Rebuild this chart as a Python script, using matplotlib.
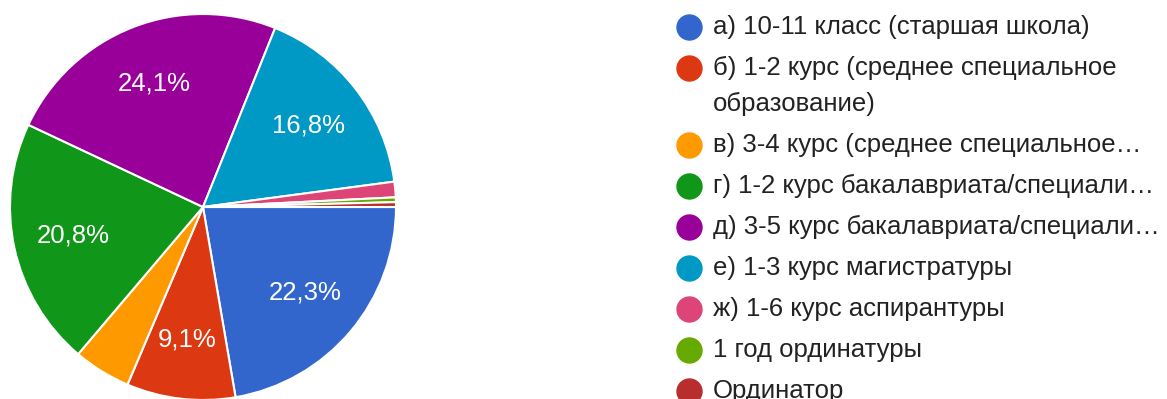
import matplotlib.pyplot as plt
from matplotlib.lines import Line2D

# Данные диаграммы (проценты)
labels = [
    "а) 10-11 класс (старшая школа)",
    "б) 1-2 курс (среднее специальное\nобразование)",
    "в) 3-4 курс (среднее специальное…",
    "г) 1-2 курс бакалавриата/специали…",
    "д) 3-5 курс бакалавриата/специали…",
    "е) 1-3 курс магистратуры",
    "ж) 1-6 курс аспирантуры",
    "1 год ординатуры",
    "Ординатор",
]
values = [22.3, 9.1, 4.8, 20.8, 24.1, 16.8, 1.3, 0.4, 0.4]
colors = ["#3366cc", "#dc3912", "#ff9900", "#109618", "#990099",
          "#0099c6", "#dd4477", "#66aa00", "#b82e2e"]

plt.rcParams['font.family'] = ['Liberation Sans', 'DejaVu Sans']

W, H = 1167, 399
fig = plt.figure(figsize=(W / 100, H / 100), dpi=100)

# pie: center (203, 207) px, radius 193 px
cx, cy, r = 203, 207, 193
ax = fig.add_axes([(cx - r) / W, (H - cy - r) / H, 2 * r / W, 2 * r / H])


def fmt(p):
    if p < 5:
        return ''
    return ('%.1f%%' % p).replace('.', ',')


wedges, texts, autotexts = ax.pie(
    values, colors=colors, startangle=0, counterclock=False,
    autopct=fmt, pctdistance=0.69,
    wedgeprops=dict(edgecolor='white', linewidth=1.5),
    textprops=dict(color='white', fontsize=18.5))
ax.set_xlim(-1, 1)
ax.set_ylim(-1, 1)
ax.set_aspect('equal')
ax.axis('off')

# legend drawn by hand (pixel coords)
lax = fig.add_axes([0, 0, 1, 1])
lax.set_xlim(0, W)
lax.set_ylim(H, 0)
lax.axis('off')

y = 27
for lab, col in zip(labels, colors):
    lax.add_line(Line2D([689], [y], marker='o', markersize=18,
                        color=col, linestyle='none'))
    lines = lab.split('\n')
    for k, line in enumerate(lines):
        lax.text(713, y + k * 36, line, fontsize=18.5, color='#222222',
                 va='center', ha='left')
    y += 41 + 36 * (len(lines) - 1)

fig.savefig('out.png', dpi=100)
